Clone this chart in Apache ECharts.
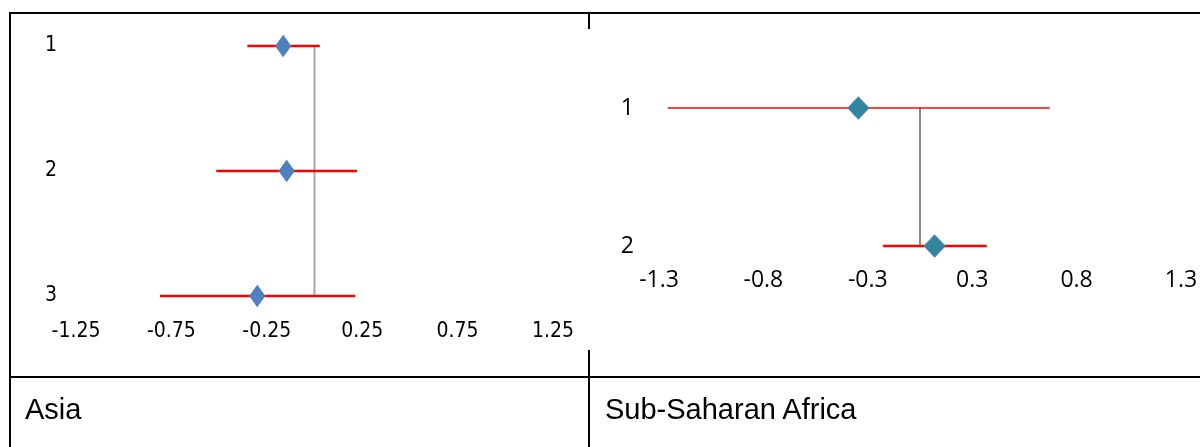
<!DOCTYPE html>
<html>
<head>
<meta charset="utf-8">
<title>Asia / Sub-Saharan Africa</title>
<script src="https://cdn.jsdelivr.net/npm/echarts@6/dist/echarts.min.js"></script>
<style>
  html, body { margin: 0; padding: 0; background: #fff; }
  #wrap { position: relative; width: 1200px; height: 447px; overflow: hidden; }
  #chart { position: absolute; left: 0; top: 0; width: 1200px; height: 447px; }
  .rule { position: absolute; background: #000; }
  .cap { position: absolute; font-family: "Liberation Sans", Arial, sans-serif; font-size: 29px; line-height: 1; color: #000; white-space: nowrap; }
</style>
</head>
<body>
<div id="wrap">
  <div id="chart"></div>
  <!-- table borders -->
  <div class="rule" style="left:9px;top:12px;width:1191px;height:2px"></div>
  <div class="rule" style="left:9px;top:12px;width:2px;height:435px"></div>
  <div class="rule" style="left:9px;top:376px;width:1191px;height:2px"></div>
  <div class="rule" style="left:588px;top:12px;width:2px;height:17px"></div>
  <div class="rule" style="left:588px;top:350px;width:2px;height:97px"></div>
  <div class="cap" style="left:25px;top:395px">Asia</div>
  <div class="cap" style="left:605px;top:395px">Sub-Saharan Africa</div>
</div>
<script>
// Asia panel
const asiaCats = ['1', '2', '3'];
const asiaEst = [-0.164, -0.146, -0.300];
const asiaLow = [-0.352, -0.515, -0.810];
const asiaHigh = [0.028, 0.223, 0.214];
const asiaTicks = ['-1.25', '-0.75', '-0.25', '0.25', '0.75', '1.25'];

// Sub-Saharan Africa panel
const ssaCats = ['1', '2'];
const ssaEst = [-0.295, 0.070];
const ssaLow = [-1.208, -0.178];
const ssaHigh = [0.621, 0.320];
const ssaTicks = ['-1.3', '-0.8', '-0.3', '0.3', '0.8', '1.3'];

const refValue = 0;
const axisMin = -1.25, axisMax = 1.25, axisStep = 0.5;

const narrow = '"Liberation Sans Narrow", "DejaVu Sans Condensed", sans-serif';
const calibriLike = '"Open Sans", "Noto Sans", sans-serif';

function xAxisFor(i, ticks, font, size, margin) {
  return {
    gridIndex: i, type: 'value', min: axisMin, max: axisMax, interval: axisStep,
    axisLine: { show: false }, axisTick: { show: false }, splitLine: { show: false },
    axisLabel: {
      margin: margin, color: '#000', fontFamily: font, fontSize: size,
      showMinLabel: true, showMaxLabel: true,
      formatter: v => ticks[Math.round((v - axisMin) / axisStep)]
    }
  };
}

function yAxisFor(i, cats, font, size, margin) {
  return {
    gridIndex: i, type: 'category', data: cats, inverse: true, boundaryGap: false,
    axisLine: { show: false }, axisTick: { show: false }, splitLine: { show: false },
    axisLabel: { margin: margin, color: '#000', fontFamily: font, fontSize: size }
  };
}

function panel(i, cats, est, low, high, look) {
  return [
    {
      type: 'line', xAxisIndex: i, yAxisIndex: i, z: 1, silent: true, symbol: 'none',
      data: [[refValue, cats[0]], [refValue, cats[cats.length - 1]]],
      lineStyle: { color: look.refColor, width: look.refWidth }
    },
    {
      type: 'custom', xAxisIndex: i, yAxisIndex: i, z: 2, silent: true,
      data: cats.map((c, k) => [low[k], high[k], c]),
      encode: { x: [0, 1], y: 2 },
      renderItem: function (params, api) {
        const y = api.value(2);
        const a = api.coord([api.value(0), y]);
        const b = api.coord([api.value(1), y]);
        return {
          type: 'line',
          shape: { x1: a[0], y1: a[1], x2: b[0], y2: b[1] },
          style: { stroke: '#FF0000', lineWidth: look.ciWidth[params.dataIndex] }
        };
      }
    },
    {
      type: 'scatter', xAxisIndex: i, yAxisIndex: i, z: 3,
      data: cats.map((c, k) => [est[k], c]),
      symbol: 'diamond', symbolSize: look.size,
      itemStyle: { color: look.color, borderColor: look.border, borderWidth: 1, opacity: 1 }
    }
  ];
}

const chart = echarts.init(document.getElementById('chart'));
chart.setOption({
  animation: false,
  grid: [
    { left: 76, top: 46, width: 477, height: 250, outerBoundsMode: 'none' },
    { left: 659, top: 108, width: 522, height: 138, outerBoundsMode: 'none' }
  ],
  xAxis: [
    xAxisFor(0, asiaTicks, narrow, 21, 25),
    xAxisFor(1, ssaTicks, calibriLike, 23, 23)
  ],
  yAxis: [
    yAxisFor(0, asiaCats, narrow, 21, 19),
    yAxisFor(1, ssaCats, calibriLike, 23, 25)
  ],
  series: [].concat(
    panel(0, asiaCats, asiaEst, asiaLow, asiaHigh, {
      refColor: '#A6A6A6', refWidth: 2, ciWidth: [2.5, 2.5, 2.5],
      size: [15, 21], color: '#4F81BD', border: '#4F81BD'
    }),
    panel(1, ssaCats, ssaEst, ssaLow, ssaHigh, {
      refColor: '#8C8C8C', refWidth: 2, ciWidth: [1.5, 2.5],
      size: [21, 22], color: '#31859C', border: '#4A7EBB'
    })
  )
});
</script>
</body>
</html>
